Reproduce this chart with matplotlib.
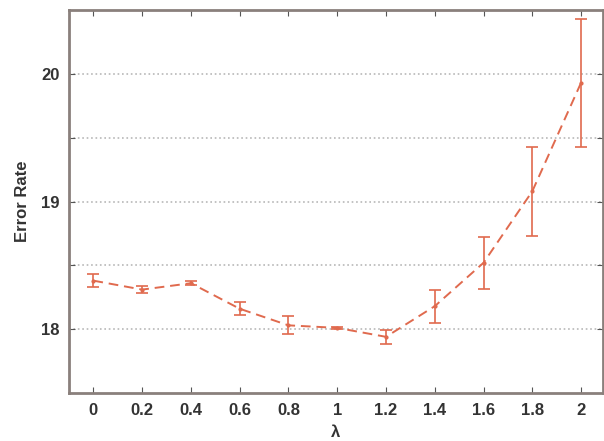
import matplotlib
matplotlib.use("Agg")
import matplotlib.pyplot as plt

lam = [0, 0.2, 0.4, 0.6, 0.8, 1.0, 1.2, 1.4, 1.6, 1.8, 2.0]
err_rate = [18.38, 18.31, 18.36, 18.16, 18.03, 18.01, 17.94, 18.18, 18.52, 19.08, 19.93]
err_bar = [0.05, 0.03, 0.015, 0.05, 0.07, 0.01, 0.055, 0.13, 0.205, 0.35, 0.50]
xtick_labels = ['0', '0.2', '0.4', '0.6', '0.8', '1', '1.2', '1.4', '1.6', '1.8', '2']

plt.rcParams['font.family'] = ['Liberation Sans', 'DejaVu Sans']

fig = plt.figure(figsize=(6.04, 4.41), dpi=100)
ax = fig.add_axes([69/604, 48/441, 534/604, 383/441])

col = '#e06a4e'
ax.errorbar(lam, err_rate, yerr=err_bar, color=col, ls='--', lw=1.4,
            dashes=(5, 3), marker='.', ms=4, capsize=4, elinewidth=1.2,
            capthick=1.2)

ax.set_xlim(-0.1, 2.09)
ax.set_ylim(17.5, 20.5)
ax.set_xticks(lam)
ax.set_xticklabels(xtick_labels)
yt = [18, 18.5, 19, 19.5, 20]
ax.set_yticks(yt)
ax.set_yticklabels(['18', '', '19', '', '20'])

ax.grid(axis='y', color='#b8b8b8', ls=':', lw=1.2)
ax.tick_params(direction='in', top=True, right=True, length=4,
               color='#555555', labelsize=12, pad=7)
for lab in ax.get_xticklabels() + ax.get_yticklabels():
    lab.set_fontweight('bold')
    lab.set_color('#333333')
for s in ax.spines.values():
    s.set_color('#8a807c')
    s.set_linewidth(2)

ax.set_xlabel('λ', fontsize=12, fontweight='bold', color='#333333', labelpad=5)
ax.set_ylabel('Error Rate', fontsize=12, fontweight='bold', color='#333333', labelpad=8)

fig.savefig('out.png', dpi=100)
